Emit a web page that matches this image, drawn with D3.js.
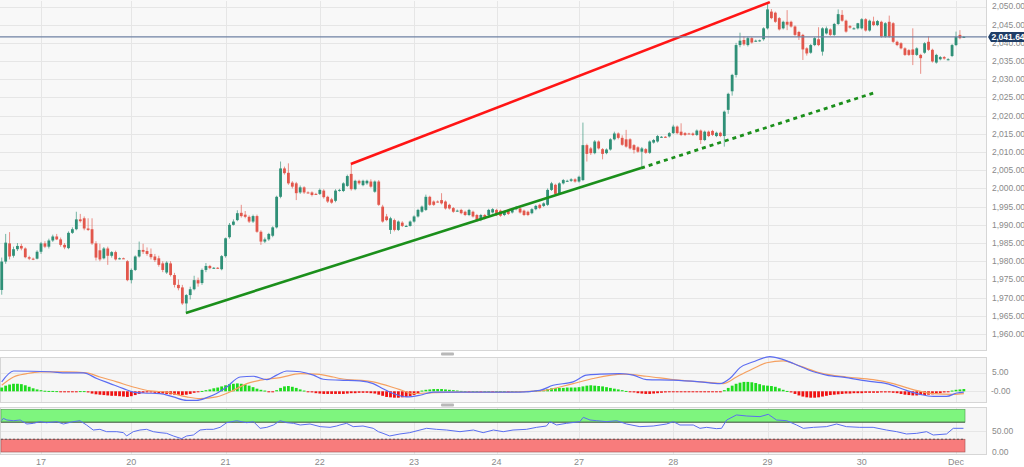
<!DOCTYPE html>
<html><head><meta charset="utf-8">
<script src="https://cdn.jsdelivr.net/npm/d3@7"></script>
<style>html,body{margin:0;padding:0;background:#fff;overflow:hidden}svg{display:block;font-family:"Liberation Sans",Arial,sans-serif}</style>
</head><body><svg id="c" width="1024" height="467"></svg>
<script>
// ---------------- data ----------------
const dayTicks = [10,33,57,81,105,126,147,171,195,219,243];
const dayLabels = ["17","20","21","22","23","24","27","28","29","30","Dec"];
const priceTicks = [1960,1965,1970,1975,1980,1985,1990,1995,2000,2005,2010,2015,2020,2025,2030,2035,2040,2045,2050];
const lastPrice = 2041.64;
const macdTicks = [0,5];
const rsiTicks = [0,50];
const rsiBands = [[70,100,"up"],[0,30,"down"]];

// hourly candles [open, high, low, close]
const candles = [
[1972.1,1981.0,1970.8,1979.9],[1979.9,1987.5,1979.3,1985.1],[1984.9,1988.0,1980.5,1981.3],[1981.5,1984.0,1981.0,1983.3],
[1983.3,1985.0,1982.8,1984.2],[1984.2,1984.8,1983.0,1983.5],[1983.5,1983.8,1980.8,1981.1],[1981.1,1981.5,1980.3,1980.7],
[1980.7,1981.0,1980.3,1980.6],[1980.7,1983.0,1980.5,1982.6],[1982.6,1985.3,1982.0,1984.9],[1984.9,1985.5,1983.6,1984.0],
[1984.0,1986.2,1983.5,1985.7],[1985.7,1987.3,1985.3,1986.8],[1986.8,1987.5,1985.8,1986.0],[1986.0,1986.5,1984.0,1984.5],
[1984.5,1985.0,1983.3,1983.8],[1983.6,1988.2,1983.3,1987.8],[1987.8,1989.3,1987.5,1988.8],[1988.8,1993.6,1988.5,1991.5],
[1991.5,1993.0,1990.6,1991.0],[1991.8,1992.3,1988.5,1989.0],[1989.0,1991.8,1988.3,1988.6],[1988.8,1991.8,1984.5,1984.9],
[1984.9,1985.5,1980.2,1981.0],[1983.0,1984.8,1980.0,1980.5],[1980.8,1983.9,1980.5,1983.5],[1983.5,1984.0,1979.0,1981.5],
[1981.5,1982.8,1981.0,1982.5],[1982.5,1982.9,1980.2,1980.5],[1980.7,1981.0,1980.5,1980.8],[1980.8,1981.0,1980.6,1980.7],
[1980.0,1980.3,1974.5,1974.8],[1974.8,1978.0,1973.9,1977.6],[1977.6,1981.6,1977.3,1981.3],[1981.3,1985.4,1981.0,1983.1],
[1983.1,1984.8,1982.0,1982.6],[1982.8,1983.8,1981.5,1982.0],[1982.0,1983.5,1980.5,1981.1],[1981.3,1982.0,1979.8,1980.3],
[1980.8,1981.5,1978.5,1979.0],[1979.4,1980.0,1977.0,1977.6],[1976.9,1980.0,1976.5,1979.6],[1979.4,1980.0,1975.8,1976.2],
[1976.2,1976.8,1972.8,1973.5],[1973.5,1975.0,1972.0,1972.6],[1972.8,1973.5,1968.0,1968.4],[1968.4,1971.0,1966.1,1970.7],
[1970.7,1973.0,1969.5,1972.3],[1972.3,1976.0,1972.0,1974.8],[1974.8,1975.5,1973.0,1973.9],[1974.0,1978.0,1973.5,1977.6],
[1977.6,1979.5,1977.0,1978.7],[1978.7,1979.0,1977.8,1978.1],[1978.1,1978.4,1977.9,1978.2],[1978.2,1978.4,1977.9,1978.1],
[1977.8,1981.7,1977.5,1981.4],[1981.4,1986.5,1981.0,1986.3],[1986.6,1990.5,1986.2,1990.0],[1990.0,1991.5,1989.8,1990.9],
[1991.3,1994.0,1991.0,1993.2],[1993.3,1995.5,1992.0,1992.4],[1992.8,1993.8,1991.8,1992.2],[1992.2,1992.6,1990.5,1990.9],
[1990.9,1992.8,1990.5,1992.4],[1992.4,1992.8,1987.8,1988.1],[1988.1,1988.5,1984.5,1985.4],[1985.4,1986.5,1985.0,1986.0],
[1986.0,1987.8,1985.6,1987.5],[1987.0,1989.6,1986.6,1989.3],[1989.3,1998.0,1989.0,1997.7],[1997.7,2007.4,1997.3,2005.5],
[2005.5,2006.0,2003.8,2004.2],[2004.3,2006.9,2001.0,2001.4],[2001.6,2002.0,2000.0,2000.5],[2001.4,2001.8,1996.8,1998.7],
[1998.9,2000.8,1998.5,2000.3],[2000.3,2000.6,1998.5,1998.9],[1998.9,1999.2,1998.6,1998.8],[1998.9,1999.2,1997.8,1998.2],
[1998.5,1998.8,1998.2,1998.4],[1998.5,2000.0,1998.2,1999.6],[1999.4,1999.8,1997.2,1997.6],[1997.7,1998.0,1996.0,1996.4],
[1997.0,1997.4,1995.8,1996.1],[1996.6,1999.8,1996.2,1999.4],[1999.4,1999.9,1999.1,1999.6],[1999.3,2001.7,1999.0,2001.4],
[2000.7,2003.8,2000.4,2003.4],[2004.0,2006.6,1999.4,1999.8],[1999.8,2002.4,1999.5,2002.1],[2002.1,2002.4,2001.0,2001.4],
[2000.9,2002.4,2000.6,2002.1],[2001.4,2002.4,2001.0,2002.1],[2001.9,2002.5,2000.2,2000.5],[1999.1,2002.2,1998.8,2001.9],
[2001.9,2002.3,1995.2,1995.5],[1995.0,1995.5,1990.6,1990.9],[1992.3,1993.0,1991.0,1991.3],[1988.6,1992.2,1987.5,1991.8],
[1991.3,1991.7,1988.2,1988.6],[1988.6,1991.2,1988.3,1990.9],[1990.6,1991.0,1989.4,1989.7],[1989.7,1990.0,1989.4,1989.7],
[1989.7,1991.2,1989.5,1990.9],[1990.9,1992.6,1990.6,1992.3],[1992.3,1994.4,1992.0,1994.1],[1993.6,1995.3,1993.3,1995.0],
[1994.1,1998.3,1993.8,1997.7],[1997.7,1998.0,1995.2,1995.5],[1996.4,1996.7,1995.2,1995.5],[1996.4,1996.7,1996.1,1996.3],
[1996.8,1998.7,1995.6,1995.9],[1996.4,1996.7,1994.2,1994.5],[1995.5,1995.8,1994.2,1994.5],[1994.6,1994.9,1993.3,1993.6],
[1993.9,1994.2,1993.6,1993.9],[1994.1,1994.4,1992.9,1993.2],[1993.6,1993.9,1992.4,1992.7],[1992.7,1994.4,1992.4,1994.1],
[1993.6,1993.9,1992.0,1992.3],[1992.7,1993.0,1990.8,1991.3],[1991.3,1993.0,1991.0,1992.7],[1992.7,1993.0,1991.5,1991.8],
[1992.7,1994.4,1992.4,1994.1],[1993.4,1994.6,1993.1,1994.3],[1994.1,1994.4,1992.4,1992.7],[1993.9,1994.2,1992.2,1992.5],
[1992.7,1993.9,1992.4,1993.6],[1994.1,1994.4,1992.7,1993.0],[1993.4,1994.6,1993.1,1994.3],[1994.3,1995.2,1994.0,1994.9],
[1994.5,1994.8,1993.1,1993.4],[1993.9,1994.2,1992.4,1992.7],[1993.6,1993.9,1992.4,1992.7],[1993.2,1994.6,1992.9,1994.3],
[1994.3,1995.5,1994.0,1995.2],[1995.5,1995.8,1994.3,1994.6],[1995.2,1996.2,1994.9,1995.9],[1995.5,2000.0,1995.2,1999.6],
[1999.6,2001.8,1999.3,2001.4],[2001.0,2001.3,1998.2,1998.5],[1998.7,2001.7,1998.4,2001.4],[2001.4,2002.6,2001.1,2002.3],
[2002.1,2002.4,2001.8,2002.1],[2002.1,2002.8,2001.8,2002.5],[2002.5,2002.8,2001.6,2001.9],[2001.9,2003.5,2001.6,2003.2],
[2002.3,2018.1,2002.0,2011.9],[2011.9,2012.3,2007.4,2009.5],[2011.0,2011.4,2009.2,2009.7],[2009.7,2013.3,2009.4,2012.9],
[2012.9,2013.2,2010.7,2011.0],[2010.8,2011.1,2008.0,2009.5],[2009.7,2011.0,2009.4,2010.7],[2010.7,2013.8,2010.4,2013.5],
[2013.5,2015.6,2013.2,2015.1],[2015.1,2015.4,2013.5,2013.9],[2013.9,2014.6,2011.7,2012.0],[2013.5,2016.1,2011.2,2011.5],
[2013.5,2013.8,2010.7,2011.0],[2011.9,2012.2,2009.6,2010.6],[2011.3,2011.6,2009.8,2010.1],[2010.1,2011.4,2005.5,2011.0],
[2010.8,2011.1,2009.5,2009.8],[2009.8,2013.2,2009.5,2012.9],[2012.6,2013.6,2012.3,2013.3],[2012.9,2014.7,2012.6,2014.4],
[2014.1,2014.4,2013.9,2014.2],[2014.2,2014.4,2013.9,2014.1],[2014.3,2015.5,2014.0,2015.2],[2015.2,2017.5,2015.0,2017.0],
[2017.0,2017.3,2014.9,2015.2],[2015.6,2017.9,2014.4,2014.7],[2015.2,2015.5,2014.4,2014.7],[2015.1,2015.3,2014.9,2015.0],
[2015.1,2015.4,2014.4,2014.7],[2014.7,2016.2,2014.4,2015.9],[2015.9,2016.2,2012.2,2013.3],[2013.3,2015.9,2013.0,2015.6],
[2015.6,2015.9,2014.1,2014.4],[2015.8,2016.1,2014.4,2014.7],[2014.4,2015.6,2014.1,2015.3],[2015.3,2015.6,2014.1,2014.4],
[2014.4,2021.4,2011.5,2021.1],[2021.6,2026.3,2020.5,2026.0],[2026.7,2031.5,2025.5,2031.2],[2031.2,2040.0,2030.5,2039.4],
[2039.4,2042.8,2038.8,2040.6],[2040.8,2041.8,2039.2,2039.6],[2039.4,2041.7,2039.0,2041.3],[2041.3,2041.6,2039.8,2040.1],
[2040.6,2040.9,2040.3,2040.6],[2040.6,2040.9,2040.3,2040.7],[2041.0,2044.3,2040.6,2044.0],[2044.0,2051.2,2043.7,2049.2],
[2048.6,2049.3,2046.5,2046.8],[2048.3,2048.6,2045.5,2045.8],[2046.8,2047.1,2043.4,2043.7],[2044.0,2046.1,2043.7,2045.8],
[2045.8,2049.0,2043.5,2045.0],[2045.8,2046.1,2044.2,2044.5],[2044.5,2044.8,2041.9,2042.2],[2043.0,2043.3,2040.8,2041.7],
[2042.2,2042.5,2035.3,2038.2],[2038.5,2038.8,2036.5,2037.1],[2037.3,2039.7,2037.0,2039.4],[2039.4,2041.6,2039.1,2041.3],
[2041.0,2044.3,2039.1,2039.4],[2037.6,2044.3,2036.5,2044.0],[2042.6,2044.5,2042.3,2044.0],[2043.7,2044.0,2041.9,2042.2],
[2042.2,2045.5,2041.9,2045.2],[2045.2,2049.2,2044.9,2047.9],[2047.7,2049.0,2045.8,2046.1],[2046.1,2046.4,2042.8,2043.1],
[2044.6,2044.9,2043.9,2044.2],[2044.0,2044.3,2043.7,2044.0],[2044.0,2045.5,2043.7,2045.4],[2044.0,2046.8,2043.7,2046.5],
[2046.5,2046.8,2043.1,2043.4],[2043.4,2046.4,2043.1,2046.1],[2045.9,2047.2,2044.6,2044.9],[2044.9,2046.3,2044.6,2046.0],
[2045.8,2046.1,2041.4,2041.7],[2041.7,2045.7,2041.4,2045.4],[2045.8,2047.5,2041.4,2041.7],[2045.4,2045.7,2040.0,2040.3],
[2040.3,2040.6,2039.1,2039.4],[2039.9,2040.2,2038.2,2038.5],[2038.5,2038.8,2036.4,2036.7],[2038.0,2038.3,2036.4,2036.7],
[2038.2,2044.0,2033.9,2036.7],[2036.7,2038.8,2036.4,2038.5],[2036.7,2037.0,2031.5,2035.8],[2037.3,2040.2,2037.0,2039.9],
[2040.3,2041.8,2037.8,2038.1],[2038.1,2038.4,2034.6,2034.9],[2034.6,2037.0,2034.3,2036.7],[2035.5,2036.4,2035.2,2036.1],
[2036.1,2036.4,2035.4,2035.7],[2035.5,2035.8,2035.2,2035.5],[2036.4,2039.7,2036.1,2039.4],[2039.4,2043.1,2039.1,2041.7],
[2042.2,2043.5,2041.0,2041.3],[2041.6,2041.9,2041.4,2041.64]
];

// trend lines [candle index, price]
const resistanceLine = [[88.9,2006.7],[195.6,2051.2]];
const supportLine = [[46.9,1965.8],[162.8,2005.6]];
const supportExt = [[162.8,2005.6],[221.9,2026.2]];

// MACD ([candle index, value])
const macdLine = [[0,2.5],[3,5.4],[12.3,5.2],[16.5,4.9],[20.8,4.9],[24.2,3.4],[27.6,2.05],[31,0.7],[33.5,-0.2],[36.1,-0.45],[40.3,-0.6],[43.7,-1.5],[47.1,-2.4],[49.6,-2.4],[52.2,-1.7],[54.7,-0.6],[57.3,1.15],[60.7,3.8],[64.1,4.0],[67.5,3.1],[70,4.3],[72.6,5.4],[76,5.2],[79.4,4.3],[81.9,3.2],[86.1,2.95],[91.2,2.75],[94.6,2.05],[97.1,0.7],[99.7,-0.6],[103.1,-1.5],[106.5,-1.05],[109.9,-0.2],[114.1,-0.2],[120.1,-0.2],[126,-0.2],[131.9,-0.2],[137,0.25],[140.4,1.6],[145.5,2.5],[148.9,4.3],[152.3,4.55],[157.4,4.7],[160.8,4.3],[164.2,3.1],[171,2.95],[177.8,2.5],[182.9,2.05],[185.4,3.4],[188,6.3],[191.4,7.85],[195.6,9.2],[198.2,8.7],[201.6,7.4],[206.7,5.2],[210,4.3],[215.1,3.65],[220.2,2.75],[225.3,2.05],[230.4,0.25],[233.8,-0.8],[237.2,-1.35],[240.6,-1.35],[243.2,-0.45],[245,-0.2]];
const signalLine = [[0,1.6],[3,3.8],[6.4,4.7],[9.7,5.15],[16.5,5.15],[21.6,4.9],[25,3.8],[29.3,2.5],[33.5,1.15],[37.8,0.1],[42,-0.2],[47.1,-1.5],[50.5,-1.95],[54.7,-1.5],[59,0.25],[62.4,2.05],[65.8,2.95],[70.9,3.65],[76,4.7],[80.2,4.55],[84.4,3.8],[86.1,3.4],[94.6,2.5],[101.4,0.45],[104.8,-0.6],[108.2,-0.45],[115.8,-0.2],[128.5,-0.2],[137,0.1],[145.5,2.05],[150.6,3.4],[158.3,4.55],[164.2,4.0],[171,3.1],[181.2,2.25],[183.7,2.05],[187.1,3.8],[191.4,6.05],[194.8,7.6],[199,8.1],[203.3,6.7],[208.4,4.9],[215.1,3.8],[221.9,3.1],[227,2.05],[232.1,0.45],[237.2,-0.6],[242.3,-0.8],[245,-0.6]];
const histogram = [
1.0,1.5,1.8,2.0,2.0,1.9,1.6,1.2,0.8,0.5,0.3,
0.15,0.1,0.1,0.05,-0.1,-0.15,-0.2,-0.2,-0.1,0.05,0.05,
-0.3,-0.6,-0.8,-0.9,-1.0,-1.1,-1.2,-1.2,-1.3,-1.4,-1.5,-1.3,-1.0,-0.7,
-0.4,-0.3,-0.3,-0.4,-0.5,-0.6,-0.7,-0.8,-0.9,-1.0,-1.0,-0.9,-0.7,-0.4,-0.1,
0.1,0.3,0.5,0.8,1.0,1.3,1.6,1.9,2.0,2.1,2.0,1.8,1.5,1.1,0.7,0.4,0.2,
-0.1,-0.1,
0.3,0.9,1.3,1.4,1.2,0.9,0.5,0.2,
-0.1,-0.3,-0.5,-0.6,-0.7,-0.7,-0.7,-0.7,-0.7,
-0.7,-0.6,-0.5,-0.5,-0.4,-0.4,-0.4,-0.5,-0.6,-0.9,-1.2,-1.5,-1.6,-1.7,-1.7,-1.6,-1.5,-1.3,-1.0,-0.6,
0.2,0.4,0.5,0.6,0.6,0.6,0.5,0.4,0.3,0.2,0.1,
0.05,-0.05,0.05,0.05,-0.05,0.05,0.05,-0.05,0.05,0.05,0.05,-0.05,0.05,0.05,0.05,0.05,
0.05,0.1,0.2,0.3,0.4,0.6,0.8,0.9,0.9,0.9,1.0,1.0,1.0,1.1,1.3,1.5,1.6,1.5,1.4,1.3,1.1,0.9,0.7,0.5,0.3,0.1,
-0.1,-0.3,-0.5,-0.6,-0.7,-0.7,-0.6,-0.5,-0.4,-0.3,-0.2,-0.2,-0.2,
-0.2,-0.2,-0.2,-0.2,-0.2,-0.2,-0.2,-0.2,-0.2,-0.2,-0.1,
0.3,0.9,1.5,2.0,2.3,2.5,2.5,2.4,2.2,1.9,1.6,1.5,1.4,1.2,0.8,0.4,0.1,
-0.3,-0.7,-1.1,-1.4,-1.6,-1.7,-1.7,-1.6,-1.4,-1.2,-1.0,-0.9,-0.8,-0.7,-0.6,-0.6,-0.5,-0.5,-0.5,-0.4,-0.4,-0.4,-0.4,-0.3,-0.3,-0.3,-0.4,-0.5,
-0.7,-0.9,-1.0,-1.1,-1.1,-1.0,-1.0,-0.9,-0.8,-0.6,-0.5,-0.3,-0.1,
0.2,0.4,0.5,0.6
];

// RSI [candle index, value]
const rsiLine = [[0,73.5],[0.4,79],[1.3,75.1],[3,73.5],[4.7,75.1],[6.4,65.7],[8.1,67.3],[9.7,71.2],[11.4,68.8],[14,71.2],[15.7,65.7],[18.2,71.2],[19.9,73.5],[21.6,63.4],[23.3,51.6],[25,53.2],[26.7,47.7],[29.3,47.7],[31,45.4],[31.8,37.6],[33.5,47.7],[35.2,51.6],[36.9,53.2],[38.6,47.7],[40.3,45.4],[42,43.8],[43.7,37.6],[45.8,31.3],[47.1,37.6],[48.8,39.9],[50.5,51.6],[52.2,53.2],[53.9,53.2],[55.6,57.9],[57.3,68.8],[59.8,73.5],[62.4,68.8],[64.1,71.2],[65.8,55.6],[67.5,57.9],[69.2,63.4],[70.9,73.5],[72.6,68.8],[74.3,67.3],[76,63.4],[78.5,65.7],[81.1,59.5],[83.6,57.9],[85.3,61],
[86.1,63.4],[87.8,67.3],[89.5,59.5],[92,61],[94.6,55.6],[95.9,47.7],[97.1,43.8],[98.8,37.6],[101.4,42.3],[103.9,45.4],[106.5,51.6],[108.2,55.6],[110.7,53.2],[113.3,51.6],[116.7,47.7],[120.1,51.6],[122.6,45.4],[125.2,51.6],[127.7,47.7],[130.2,51.6],[133.6,53.2],[136.2,57.9],[138.7,61],[139.6,71.2],[141.3,63.4],[143.8,67.3],[147.2,71.2],[148.1,81.4],[149.8,75.1],[151.5,73.5],[154,71.2],[156.6,73.5],[159.1,65.7],[162.5,59.5],[165.9,61],[169.3,65.7],[171,71.2],[172.7,63.4],
[176.1,63.4],[177.8,55.6],[179.5,57.9],[182,54.8],[183.3,55.6],[184.6,75.1],[187.1,87],[189.7,84.5],[193.1,83],[195.2,88.5],[197.3,75.1],[199.9,73.5],[202.4,63.4],[204.1,55.6],[206.7,57.9],[210,59.5],[212.6,65.7],[215.1,59.5],[218.5,57.9],[221.9,57.9],[225.3,51.6],[227.9,47.7],[230.4,42.3],[233,43.8],[235.5,47.7],[237.2,39.9],[240.6,42.3],[242.3,55.6],[244.9,55.6]];

// ---------------- layout ----------------
const svg = d3.select("#c");
const plotR = 987;
const main = {top:0, bottom:350};
const macdP = {top:357, bottom:402};
const rsiP = {top:407, bottom:454};
const UP = "#2f9077", DOWN = "#e2574c";
const gridC = "#e6e6e6", borderC = "#d6d6d6", labelC = "#8a8a8a";

const x = d3.scaleLinear().domain([dayTicks[0], dayTicks[dayTicks.length-1]]).range([41, 956]);
const y = d3.scaleLinear().domain([1960, 2050]).range([334, 6.5]);
const ym = d3.scaleLinear().domain([0, 5]).range([391.3, 372.5]);
const yr = d3.scaleLinear().domain([0, 50]).range([452, 430.7]);

// panel backgrounds
svg.append("rect").attr("x",0).attr("y",main.top).attr("width",plotR).attr("height",main.bottom-main.top).attr("fill","#f8f8f8");
[macdP, rsiP].forEach(p => {
  svg.append("rect").attr("x",0.5).attr("y",p.top+0.5).attr("width",plotR-1).attr("height",p.bottom-p.top)
    .attr("fill","#f6f6f6").attr("stroke",borderC).attr("stroke-width",1);
});
svg.append("line").attr("x1",plotR-0.5).attr("x2",plotR-0.5).attr("y1",0).attr("y2",main.bottom).attr("stroke",borderC);
svg.append("line").attr("x1",0).attr("x2",plotR).attr("y1",main.bottom+0.5).attr("y2",main.bottom+0.5).attr("stroke",borderC);

// vertical day gridlines
[main, macdP, rsiP].forEach(p => {
  svg.append("g").selectAll("line").data(dayTicks).join("line")
    .attr("x1", d => Math.round(x(d))+0.5).attr("x2", d => Math.round(x(d))+0.5)
    .attr("y1", p.top+1).attr("y2", p.bottom)
    .attr("stroke", gridC).attr("stroke-width",1);
});

// main horizontal gridlines + labels
svg.append("g").selectAll("line").data(priceTicks).join("line")
  .attr("x1",0).attr("x2",plotR-1).attr("y1", d => Math.round(y(d))+0.5).attr("y2", d => Math.round(y(d))+0.5)
  .attr("stroke", gridC);
const fmt = d3.format(",.2f");
svg.append("g").selectAll("text").data(priceTicks).join("text")
  .attr("x", 992).attr("y", d => y(d)).attr("dy","0.35em")
  .attr("font-size", 8.5).attr("fill", labelC).text(d => fmt(d));

// candles
const cw = 2.8;
const cg = svg.append("g");
candles.forEach((c, i) => {
  const [o,h,l,cl] = c;
  const up = cl >= o;
  const col = up ? UP : DOWN;
  const cx = x(i);
  cg.append("line").attr("x1",cx).attr("x2",cx).attr("y1",y(h)).attr("y2",y(l))
    .attr("stroke", col).attr("stroke-width",1).attr("stroke-opacity",0.65);
  const top = y(Math.max(o,cl)), bot = y(Math.min(o,cl));
  cg.append("rect").attr("x", cx - cw/2).attr("y", top).attr("width", cw).attr("height", Math.max(1, bot-top)).attr("fill", col);
});

// trend lines
const tl = d3.line().x(d => x(d[0])).y(d => y(d[1]));
svg.append("path").attr("d", tl(resistanceLine)).attr("stroke","#ff1515").attr("stroke-width",2.6).attr("fill","none");
svg.append("path").attr("d", tl(supportLine)).attr("stroke","#1b8f1b").attr("stroke-width",2.6).attr("fill","none");
svg.append("path").attr("d", tl(supportExt)).attr("stroke","#1b8f1b").attr("stroke-width",2.8).attr("stroke-dasharray","4,4").attr("fill","none");

// current price line and tag
const py = y(lastPrice);
svg.append("line").attr("x1",0).attr("x2",plotR).attr("y1",py).attr("y2",py)
  .attr("stroke","#6f82a3").attr("stroke-width",1.2);
svg.append("path")
  .attr("d", `M988,${py} L991,${py-5} L1024,${py-5} L1024,${py+5} L991,${py+5} Z`)
  .attr("fill","#1f3d66");
svg.append("text").attr("x",991.5).attr("y",py).attr("dy","0.35em").attr("font-size",8.5).attr("fill","#fff").attr("font-weight","bold").text(fmt(lastPrice));

// MACD panel
svg.append("g").selectAll("line").data(macdTicks).join("line")
  .attr("x1",1).attr("x2",plotR-1).attr("y1", d => Math.round(ym(d))+0.5).attr("y2", d => Math.round(ym(d))+0.5).attr("stroke", gridC);
svg.append("g").selectAll("text").data(macdTicks).join("text")
  .attr("x", d => d === 0 ? 991 : 992).attr("y", d => ym(d)).attr("dy","0.35em")
  .attr("font-size", 8.5).attr("fill", labelC).text(d => d === 0 ? "-0.00" : d3.format(".2f")(d));
svg.append("g").selectAll("rect").data(histogram).join("rect")
  .attr("x", (d,i) => x(i) - 1.4).attr("width", 2.8)
  .attr("y", d => Math.min(ym(0), ym(d))).attr("height", d => Math.max(1, Math.abs(ym(d)-ym(0))))
  .attr("fill", d => d >= 0 ? "#1edc1e" : "#f01212");
const ml = d3.line().x(d => x(d[0])).y(d => ym(d[1])).curve(d3.curveMonotoneX);
svg.append("path").attr("d", ml(signalLine)).attr("stroke","#f5a060").attr("stroke-width",1.2).attr("fill","none");
svg.append("path").attr("d", ml(macdLine)).attr("stroke","#5b6cf2").attr("stroke-width",1.2).attr("fill","none");

// RSI panel
rsiBands.forEach(b => {
  svg.append("rect").attr("x",1).attr("y", yr(b[1])).attr("width", 964).attr("height", yr(b[0]) - yr(b[1]))
    .attr("fill", b[2] === "up" ? "#7ef57e" : "#f87c7c").attr("stroke", b[2] === "up" ? "#4c9a4c" : "#a05050").attr("stroke-width",0.6);
});
svg.append("line").attr("x1",1).attr("x2",plotR-1).attr("y1",Math.round(yr(50))+0.5).attr("y2",Math.round(yr(50))+0.5).attr("stroke",gridC);
svg.append("line").attr("x1",1).attr("x2",965).attr("y1",yr(70)).attr("y2",yr(70)).attr("stroke","#444").attr("stroke-width",0.8);
svg.append("line").attr("x1",1).attr("x2",965).attr("y1",yr(30)).attr("y2",yr(30)).attr("stroke","#444").attr("stroke-width",0.8).attr("stroke-dasharray","2,2");
svg.append("g").selectAll("text").data(rsiTicks).join("text")
  .attr("x", 992).attr("y", d => yr(d)).attr("dy","0.35em")
  .attr("font-size", 8.5).attr("fill", labelC).text(d => d3.format(".2f")(d));
const rl = d3.line().x(d => x(d[0])).y(d => yr(d[1]));
svg.append("path").attr("d", rl(rsiLine)).attr("stroke","#5a6ef0").attr("stroke-width",1).attr("fill","none");

// panel handles
[352.5, 403.5].forEach(hy => {
  svg.append("rect").attr("x",441).attr("y",hy).attr("width",13).attr("height",3).attr("rx",1).attr("fill","#b8b8b8");
});

// x axis labels
svg.append("g").selectAll("text").data(dayTicks).join("text")
  .attr("x", d => x(d)).attr("y", 465).attr("text-anchor","middle")
  .attr("font-size", 9).attr("fill", labelC).text((d,i) => dayLabels[i]);
</script>
</body></html>
